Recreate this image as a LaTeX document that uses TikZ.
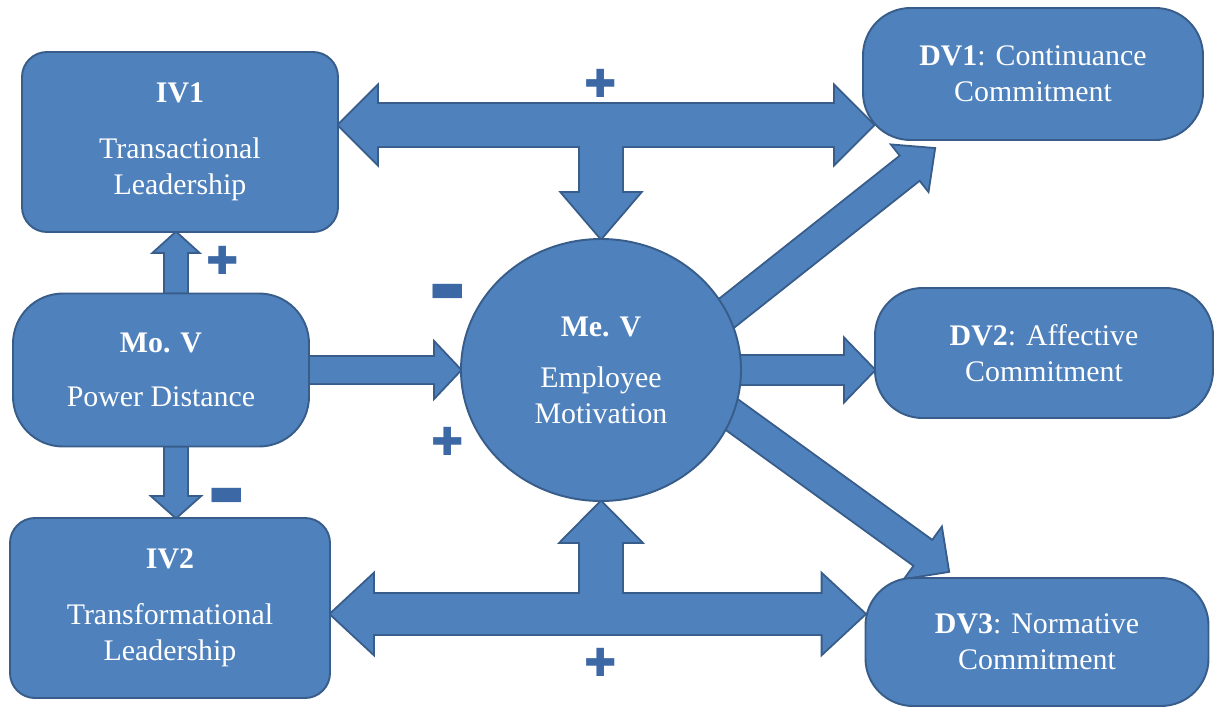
\documentclass[tikz,border=0pt]{standalone}
\usepackage{fontspec}
\setmainfont{Liberation Serif}
\newfontfamily\signfont{DejaVu Sans}
\usetikzlibrary{calc,shapes.geometric,backgrounds}

\definecolor{boxfill}{HTML}{4F81BD}
\definecolor{boxline}{HTML}{385D8A}
\definecolor{signcol}{HTML}{3C68A5}

% block arrow: tail, tip, half shaft, half head, head length
\newcommand{\blockarrow}[5]{%
  \coordinate (hb) at ($(#2)!#5!(#1)$);
  \path[arrowpart] ($(#1)!#3!90:(#2)$) -- ($(hb)!#3!-90:(#1)$) -- ($(hb)!#4!-90:(#1)$)
    -- (#2) -- ($(hb)!#4!90:(#1)$) -- ($(hb)!#3!90:(#1)$) -- ($(#1)!#3!-90:(#2)$) -- cycle;
}
% same, with a head at both ends
\newcommand{\twowayarrow}[5]{%
  \coordinate (ha) at ($(#1)!#5!(#2)$);
  \coordinate (hb) at ($(#2)!#5!(#1)$);
  \path[arrowpart] (#1) -- ($(ha)!#4!90:(#2)$) -- ($(ha)!#3!90:(#2)$) -- ($(hb)!#3!-90:(#1)$)
    -- ($(hb)!#4!-90:(#1)$) -- (#2) -- ($(hb)!#4!90:(#1)$) -- ($(hb)!#3!90:(#1)$)
    -- ($(ha)!#3!-90:(#2)$) -- ($(ha)!#4!-90:(#2)$) -- cycle;
}
\newcommand{\allarrows}{%
  \twowayarrow{IV1.east |- topbar}{dv1in}{0.42cm}{0.76cm}{0.76cm}
  \blockarrow{topbar}{MeV.north}{0.42cm}{0.77cm}{0.9cm}
  \twowayarrow{IV2.east |- botbar}{DV3.west |- botbar}{0.4cm}{0.78cm}{0.84cm}
  \blockarrow{botbar}{MeV.south}{0.42cm}{0.79cm}{0.8cm}
  \blockarrow{MoV.east}{MeV.west}{0.26cm}{0.53cm}{0.5cm}
  \blockarrow{pdaxis |- MoV.north}{pdaxis |- IV1.south}{0.22cm}{0.42cm}{0.38cm}
  \blockarrow{pdaxis |- MoV.south}{pdaxis |- IV2.north}{0.22cm}{0.45cm}{0.4cm}
  \blockarrow{mv1}{dv1tip}{0.3cm}{0.56cm}{0.6cm}
  \blockarrow{MeV.center}{DV2.west |- MeV.center}{0.28cm}{0.6cm}{0.58cm}
  \blockarrow{mv3}{dv3tip}{0.3cm}{0.6cm}{0.6cm}
}

\begin{document}
\begin{tikzpicture}[
  box/.style={draw=boxline, line width=1.1pt, fill=boxfill, text=white, align=center,
    font={\fontsize{17}{20.5}\selectfont}, inner sep=0pt},
  sign/.style={text=signcol, font={\signfont\fontsize{22}{22}\selectfont}, inner sep=0pt}]
\useasboundingbox (0,0) rectangle (24.48,-14.2);

\node[box, rounded corners=0.5cm, minimum width=6.32cm, minimum height=3.6cm] (IV1) at (3.6,-2.84) {\textbf{IV1}\\[0.4cm]Transactional\\Leadership};
\node[box, rounded corners=1cm, minimum width=5.92cm, minimum height=3.06cm] (MoV) at (3.22,-7.4) {\textbf{Mo. V}\\[0.36cm]Power Distance};
\node[box, rounded corners=0.5cm, minimum width=6.4cm, minimum height=3.6cm] (IV2) at (3.4,-12.16) {\textbf{IV2}\\[0.4cm]Transformational\\Leadership};
\node[box, ellipse, minimum width=5.6cm, minimum height=5.24cm] (MeV) at (12.02,-7.4) {\textbf{Me. V}\\[0.3cm]Employee\\Motivation};
\node[box, rounded corners=0.95cm, minimum width=6.8cm, minimum height=2.64cm] (DV1) at (20.66,-1.48) {\textbf{DV1}: Continuance\\Commitment};
\node[box, rounded corners=0.95cm, minimum width=6.76cm, minimum height=2.6cm] (DV2) at (20.88,-7.06) {\textbf{DV2}: Affective\\Commitment};
\node[box, rounded corners=0.95cm, minimum width=6.86cm, minimum height=2.56cm] (DV3) at (20.74,-12.84) {\textbf{DV3}: Normative\\Commitment};

% ends of the arrows
\coordinate (topbar) at (12.02,-2.5);
\coordinate (botbar) at (12.02,-12.28);
\coordinate (pdaxis) at (3.52,-7.4);
\coordinate (dv1in) at ($(DV1.west |- topbar)+(0.22,0)$);
\coordinate (dv1tip) at ($(DV1.south)+(-1.98,-0.16)$);
\coordinate (dv3tip) at ($(DV3.north)+(-1.78,0.12)$);
\coordinate (mv1) at ($(MeV.center)!0.85!(MeV.22)$);
\coordinate (mv3) at ($(MeV.center)!0.85!(MeV.-16)$);

\begin{pgfonlayer}{background}
\begin{scope}[arrowpart/.style={draw=boxline, line width=2.2pt, line join=miter}]
\allarrows
\end{scope}
\begin{scope}[arrowpart/.style={fill=boxfill}]
\allarrows
\end{scope}
\end{pgfonlayer}

\node[sign] (p1) at (12.02,-1.66) {✚};
\node[sign] (p2) at (4.46,-5.2) {✚};
\node[sign] (m1) at (8.96,-5.86) {▬};
\node[sign] (p3) at (8.96,-8.82) {✚};
\node[sign] (m2) at (4.54,-9.94) {▬};
\node[sign] (p4) at (12.02,-13.24) {✚};
\end{tikzpicture}
\end{document}
